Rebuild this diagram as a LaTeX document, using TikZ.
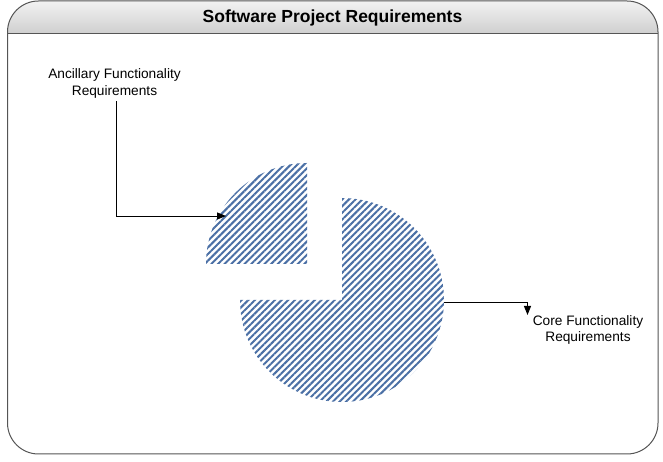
\documentclass[tikz,border=0pt]{standalone}
\usepackage{fontspec}
\setmainfont{Liberation Sans}
\usepackage{tikz}
\usetikzlibrary{arrows.meta,positioning,patterns.meta}
\definecolor{hatchblue}{RGB}{74,111,165}
\definecolor{framegray}{RGB}{85,85,85}

\begin{document}
\begin{tikzpicture}[
x=1pt, y=1pt,
frame/.style={
draw=framegray,
line width=1pt
},
slice/.style={
pattern={Lines[angle=45,distance=4.7pt,line width=2pt]},
pattern color=hatchblue
},
label/.style={
align=center,
font=\fontsize{13.7}{16.5}\selectfont,
inner sep=0pt
},
arrow/.style={
-{Triangle[length=9pt,width=7pt]},
line width=0.9pt
}
]
\useasboundingbox (0,0) rectangle (663,462);

% Frame and title
\begin{scope}
\clip[rounded corners=31pt] (7.5,8) rectangle (658,461);
\shade[top color=gray!10, bottom color=gray!38] (7.5,428) rectangle (658,461);
\end{scope}
\draw[frame, rounded corners=31pt] (7.5,8) rectangle (658,461);
\draw[frame] (7.5,428) -- (658,428);
\node[font=\fontsize{17.5}{20}\selectfont\bfseries] (title) at (332.5,444) {Software Project Requirements};

% Pie slices
\coordinate (core-center) at (342,162);
\coordinate (ancillary-center) at (307,198);
\fill[slice] (core-center) -- ++(180:102) arc[start angle=180, end angle=450, radius=102] -- cycle;
\fill[slice] (ancillary-center) -- ++(90:101) arc[start angle=90, end angle=180, radius=101] -- cycle;

% Labels
\node[label] (ancillary) at (114.5,378.5) {Ancillary Functionality\\Requirements};
\node[label] (core) at (588,132) {Core Functionality\\Requirements};
\coordinate (ancillary-tip) at (226,246);
\coordinate (core-start) at (444,160);
\coordinate (core-tip) at (527.5,147);

% Connectors
\draw[arrow] ([xshift=2pt]ancillary.south) ++(0,-3) |- (ancillary-tip);
\draw[arrow] (core-start) -| (core-tip);
\end{tikzpicture}
\end{document}
